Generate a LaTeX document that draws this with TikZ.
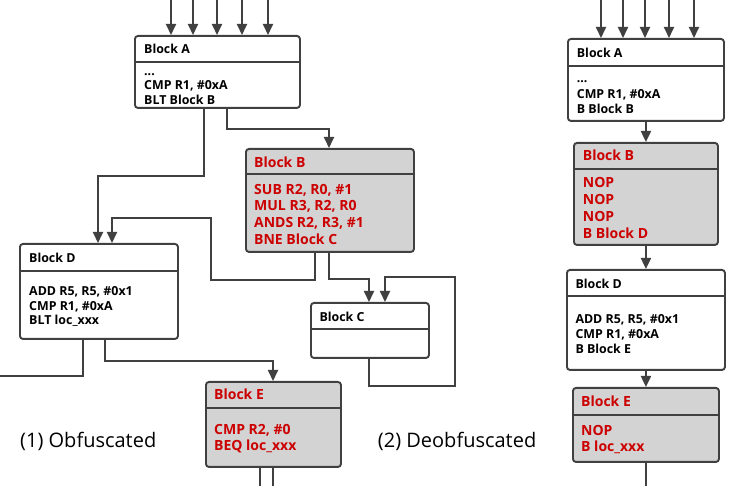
\documentclass[tikz,border=0pt]{standalone}
\usepackage{fontspec}
\setmainfont{Open Sans}
\usetikzlibrary{arrows.meta}
\definecolor{linegray}{RGB}{64,64,64}
\definecolor{boxgray}{RGB}{211,211,211}
\definecolor{codered}{RGB}{204,0,0}
\tikzset{
  blk/.style={draw=linegray, line width=1.9pt, rounded corners=3pt, anchor=north west, inner sep=0pt, fill=white},
  greyblk/.style={blk, fill=boxgray},
  arr/.style={draw=linegray, line width=1.9pt, -{Triangle[length=11pt,width=10pt]}},
  plain/.style={draw=linegray, line width=1.9pt},
  divline/.style={draw=linegray, line width=1.5pt},
  blacktxt/.style={anchor=base west, inner sep=0pt, font=\fontsize{12.4}{14}\selectfont\bfseries, text=black},
  redtxt/.style={anchor=base west, inner sep=0pt, font=\fontsize{14}{16}\selectfont\bfseries, text=codered},
  captxt/.style={anchor=base west, inner sep=0pt, font=\fontsize{20}{24}\selectfont, text=black}
}
\begin{document}
\begin{tikzpicture}[x=1pt,y=-1pt]
\useasboundingbox (0,0) rectangle (748,486);
% ---------------- left: obfuscated ----------------
\node[blk, minimum width=165pt, minimum height=72pt] (lA) at (134,35) {};
\draw[divline] (134,62) -- (299,62);
\node[greyblk, minimum width=168pt, minimum height=103pt] (lB) at (245,148) {};
\draw[divline] (245,174) -- (413,174);
\node[blk, minimum width=158pt, minimum height=95pt] (lD) at (19,243) {};
\draw[divline] (19,271) -- (177,271);
\node[blk, minimum width=118pt, minimum height=55pt] (lC) at (310,302) {};
\draw[divline] (310,329) -- (428,329);
\node[greyblk, minimum width=135pt, minimum height=85pt] (lE) at (205,381) {};
\draw[divline] (205,408) -- (340,408);

\node[blacktxt] (lAh) at (144,54) {Block A};
\node[blacktxt] (lA1) at (144,75.5) {...};
\node[blacktxt] (lA2) at (144,90) {CMP R1, \#0xA};
\node[blacktxt] (lA3) at (144,104.3) {BLT Block B};

\node[redtxt] (lBh) at (254,167.7) {Block B};
\node[redtxt] (lB1) at (254,194.3) {SUB R2, R0, \#1};
\node[redtxt] (lB2) at (254,211) {MUL R3, R2, R0};
\node[redtxt] (lB3) at (254,228) {ANDS R2, R3, \#1};
\node[redtxt] (lB4) at (254,245) {BNE Block C};

\node[blacktxt] (lDh) at (29,262.7) {Block D};
\node[blacktxt] (lD1) at (29,295.3) {ADD R5, R5, \#0x1};
\node[blacktxt] (lD2) at (29,310.3) {CMP R1, \#0xA};
\node[blacktxt] (lD3) at (29,325) {BLT loc\_xxx};

\node[blacktxt] (lCh) at (319.3,321.7) {Block C};

\node[redtxt] (lEh) at (214,400) {Block E};
\node[redtxt] (lE1) at (214,434.3) {CMP R2, \#0};
\node[redtxt] (lE2) at (214,451) {BEQ loc\_xxx};

\foreach \dx in {37,59,83,108,134}
  \draw[arr] ([xshift=\dx pt]lA.north west) ++(0,-36) -- ++(0,36);
\draw[arr] ([xshift=70pt]lA.south west) -- ++(0,67) -| ([xshift=79pt]lD.north west);
\draw[arr] ([xshift=93pt]lA.south west) -- ++(0,20) -| ([xshift=84pt]lB.north west);
\draw[arr] ([xshift=70pt]lB.south west) -- ++(0,27) -- ++(-104,0) -- ++(0,-62) -| ([xshift=93pt]lD.north west);
\draw[arr] ([xshift=84pt]lB.south west) -- ++(0,26) -| ([xshift=59pt]lC.north west);
\draw[arr] ([xshift=59pt]lC.south west) -- ++(0,27) -- ++(86,0) -- ++(0,-109) -| ([xshift=75pt]lC.north west);
\coordinate (exitD) at (-2,376);
\draw[plain] ([xshift=64pt]lD.south west) |- (exitD);
\draw[arr] ([xshift=86pt]lD.south west) -- ++(0,21) -| ([xshift=68pt]lE.north west);
\draw[plain] ([xshift=55pt]lE.south west) -- ++(0,22);
\draw[plain] ([xshift=68pt]lE.south west) -- ++(0,22);

\node[captxt] (cap1) at (20,448) {(1) Obfuscated};
\node[captxt] (cap2) at (377.7,448) {(2) Deobfuscated};

% ---------------- right: deobfuscated ----------------
\node[blk, minimum width=156pt, minimum height=82pt] (rA) at (567,38) {};
\draw[divline] (567,66) -- (723,66);
\node[greyblk, minimum width=144pt, minimum height=102pt] (rB) at (573,142) {};
\draw[divline] (573,169) -- (717,169);
\node[blk, minimum width=158pt, minimum height=100pt] (rD) at (566,269) {};
\draw[divline] (566,296) -- (724,296);
\node[greyblk, minimum width=146pt, minimum height=74pt] (rE) at (572,387) {};
\draw[divline] (572,415) -- (718,415);

\node[blacktxt] (rAh) at (576.7,57.3) {Block A};
\node[blacktxt] (rA1) at (576.7,83) {...};
\node[blacktxt] (rA2) at (576.7,98.3) {CMP R1, \#0xA};
\node[blacktxt] (rA3) at (576.7,113.3) {B Block B};

\node[redtxt] (rBh) at (582.7,161) {Block B};
\node[redtxt] (rB1) at (582.7,187.3) {NOP};
\node[redtxt] (rB2) at (582.7,204.3) {NOP};
\node[redtxt] (rB3) at (582.7,221.3) {NOP};
\node[redtxt] (rB4) at (582.7,238.3) {B Block D};

\node[blacktxt] (rDh) at (575.3,288.7) {Block D};
\node[blacktxt] (rD1) at (575.3,323.7) {ADD R5, R5, \#0x1};
\node[blacktxt] (rD2) at (575.3,338.3) {CMP R1, \#0xA};
\node[blacktxt] (rD3) at (575.3,353.3) {B Block E};

\node[redtxt] (rEh) at (581,407) {Block E};
\node[redtxt] (rE1) at (581,435.3) {NOP};
\node[redtxt] (rE2) at (581,452) {B loc\_xxx};

\foreach \dx in {34,56,78,102,127}
  \draw[arr] ([xshift=\dx pt]rA.north west) ++(0,-39) -- ++(0,39);
\draw[arr] (rA.south) -- (rB.north);
\draw[arr] (rB.south) -- (rD.north);
\draw[arr] (rD.south) -- (rE.north);
\draw[plain] (rE.south) -- ++(0,27);
\end{tikzpicture}
\end{document}
